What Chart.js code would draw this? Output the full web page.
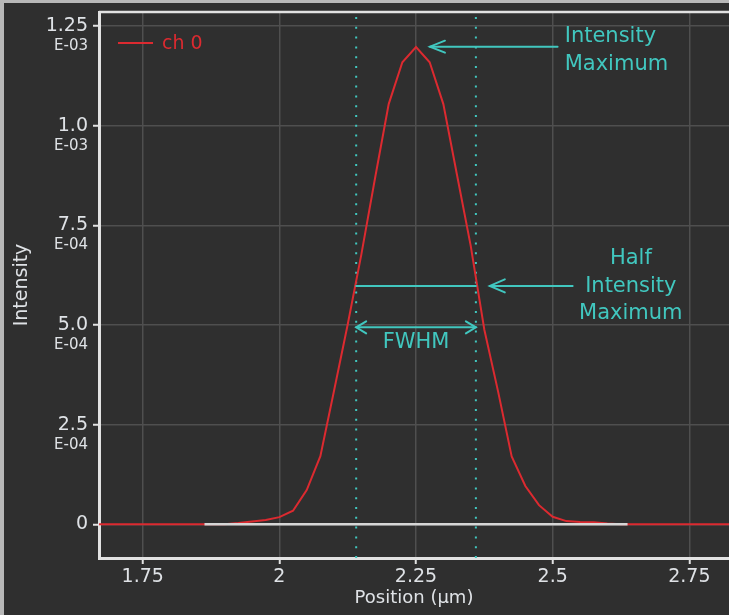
<!DOCTYPE html>
<html><head><meta charset="utf-8">
<script src="https://cdn.jsdelivr.net/npm/chart.js@4/dist/chart.umd.min.js"></script>
<style>html,body{margin:0;padding:0;background:#2f2f2f;}canvas{display:block}</style>
</head><body>
<canvas id="c" width="729" height="615"></canvas>
<script>
// ---- data ----
const positions = [1.65, 1.9, 1.925, 1.95, 1.975, 2.0, 2.025, 2.05, 2.075, 2.1, 2.125, 2.15, 2.175, 2.2, 2.225, 2.25, 2.275, 2.3, 2.325, 2.35, 2.375, 2.4, 2.425, 2.45, 2.475, 2.5, 2.525, 2.55, 2.575, 2.6, 2.625, 2.85];
const intensities = [0, 0, 0.000003, 0.000007, 0.000011, 0.000018, 0.000034, 0.000086, 0.000171, 0.000335, 0.000501, 0.000677, 0.000868, 0.001054, 0.001159, 0.001197, 0.001159, 0.001054, 0.000876, 0.000699, 0.000488, 0.000334, 0.000170, 0.000096, 0.000048, 0.000019, 0.000008, 0.000006, 0.000005, 0.000002, 0, 0];
const baselineX = [1.863, 2.637];
const baselineY = [0, 0];
const fwhmBounds = [2.1405, 2.3595];
const halfMaxValue = 0.000598;
const fwhmArrowY = 0.000494;
const peakArrowX = [2.2755, 2.509];
const peakArrowY = 0.001198;
const halfArrowX = [2.385, 2.5365];
const peakLabelLines = ['Intensity', 'Maximum'];
const peakLabelAt = [2.522, 0.0011887];
const halfLabelLines = ['Half', 'Intensity', 'Maximum'];
const halfLabelAt = [2.643, 0.0005966];
const fwhmLabel = 'FWHM';
const fwhmLabelAt = [2.25, 0.0004556];
const xTicks = [1.75, 2, 2.25, 2.5, 2.75];
const xTickLabels = ['1.75', '2', '2.25', '2.5', '2.75'];
const yTicks = [0, 0.00025, 0.0005, 0.00075, 0.001, 0.00125];
const yTickLabels = ['0', '2.5', '5.0', '7.5', '1.0', '1.25'];
const yTickExponents = ['', 'E-04', 'E-04', 'E-04', 'E-03', 'E-03'];
const xRange = [1.670, 2.8226];
const yRange = [-0.0000845, 0.001285];
const seriesName = 'ch 0';

// ---- styles ----
const RED = '#dc2a30', CYAN = '#41c7bf', TXT = '#dfe2e6', BG = '#2f2f2f', GRID = '#4f4f4f', AXIS = '#e2e2e2';
const FONT = 'DejaVu Sans';

const zip = (xs, ys) => xs.map((v, i) => ({x: v, y: ys[i]}));

const overlay = {
  id: 'overlay',
  beforeDraw(chart) {
    const {ctx, width, height} = chart;
    ctx.save();
    ctx.fillStyle = BG; ctx.fillRect(0, 0, width, height);
    ctx.fillStyle = '#b8b8b8'; ctx.fillRect(0, 0, width, 3); ctx.fillRect(0, 0, 4, height);
    ctx.restore();
  },
  afterDatasetsDraw(chart) {
    const {ctx, chartArea: a, scales: {x, y}} = chart;
    const X = v => x.getPixelForValue(v), Y = v => y.getPixelForValue(v);
    const seg = (x1, y1, x2, y2) => { ctx.beginPath(); ctx.moveTo(x1, y1); ctx.lineTo(x2, y2); ctx.stroke(); };
    const head = (tx, ty, dir, len, w) => { ctx.beginPath(); ctx.moveTo(tx + dir * len, ty - w); ctx.lineTo(tx, ty); ctx.lineTo(tx + dir * len, ty + w); ctx.stroke(); };
    ctx.save();
    // top border of plot
    ctx.strokeStyle = AXIS; ctx.lineWidth = 2.5;
    seg(a.left, a.top, a.right, a.top);
    ctx.strokeStyle = CYAN; ctx.lineWidth = 2; ctx.lineCap = 'round';
    // half maximum line
    seg(X(fwhmBounds[0]), Y(halfMaxValue), X(fwhmBounds[1]), Y(halfMaxValue));
    // FWHM double arrow
    const fy = Y(fwhmArrowY);
    seg(X(fwhmBounds[0]), fy, X(fwhmBounds[1]), fy);
    head(X(fwhmBounds[0]), fy, 1, 10, 6);
    head(X(fwhmBounds[1]), fy, -1, 10, 6);
    // peak arrow
    const py = Y(peakArrowY);
    seg(X(peakArrowX[0]), py, X(peakArrowX[1]), py);
    head(X(peakArrowX[0]), py, 1, 15, 6);
    // half max arrow
    const hy = Y(halfMaxValue);
    seg(X(halfArrowX[0]), hy, X(halfArrowX[1]), hy);
    head(X(halfArrowX[0]), hy, 1, 15, 6.5);
    // texts
    ctx.fillStyle = CYAN; ctx.font = '21px "' + FONT + '"'; ctx.textBaseline = 'middle';
    const lh = 27.5;
    ctx.textAlign = 'left';
    peakLabelLines.forEach((t, i) => ctx.fillText(t, X(peakLabelAt[0]), Y(peakLabelAt[1]) + (i - (peakLabelLines.length - 1) / 2) * lh));
    ctx.textAlign = 'center';
    halfLabelLines.forEach((t, i) => ctx.fillText(t, X(halfLabelAt[0]), Y(halfLabelAt[1]) + (i - (halfLabelLines.length - 1) / 2) * lh));
    ctx.fillText(fwhmLabel, X(fwhmLabelAt[0]), Y(fwhmLabelAt[1]));
    // legend
    const ly = a.top + 31;
    ctx.strokeStyle = RED; ctx.lineWidth = 2; ctx.lineCap = 'butt';
    seg(a.left + 19, ly, a.left + 54, ly);
    ctx.fillStyle = RED; ctx.font = '19px "' + FONT + '"'; ctx.textAlign = 'left';
    ctx.fillText(chart.data.datasets[1].label, a.left + 63, ly + 1);
    ctx.restore();
  },
  afterDraw(chart) {
    const {ctx, chartArea: a, scales: {y}} = chart;
    ctx.save();
    ctx.fillStyle = TXT; ctx.font = '15px "' + FONT + '"'; ctx.textAlign = 'right'; ctx.textBaseline = 'middle';
    yTicks.forEach((v, i) => { if (yTickExponents[i]) ctx.fillText(yTickExponents[i], a.left - 11, y.getPixelForValue(v) + 20); });
    ctx.restore();
  }
};

new Chart(document.getElementById('c'), {
  type: 'line',
  data: {
    datasets: [
      {label: 'baseline', data: zip(baselineX, baselineY), borderColor: '#d6d6d6', borderWidth: 2.5, pointRadius: 0},
      {label: seriesName, data: zip(positions, intensities), borderColor: RED, borderWidth: 2, pointRadius: 0, tension: 0},
      {label: 'left', data: zip([fwhmBounds[0], fwhmBounds[0]], yRange), borderColor: CYAN, borderWidth: 2, borderDash: [2, 7.8], pointRadius: 0},
      {label: 'right', data: zip([fwhmBounds[1], fwhmBounds[1]], yRange), borderColor: CYAN, borderWidth: 2, borderDash: [2, 7.8], pointRadius: 0}
    ]
  },
  options: {
    responsive: false, animation: false, devicePixelRatio: 1,
    layout: {padding: {top: 12, right: 0, left: 0, bottom: 0}},
    plugins: {legend: {display: false}, tooltip: {enabled: false}},
    scales: {
      x: {
        type: 'linear', min: xRange[0], max: xRange[1],
        afterBuildTicks: s => { s.ticks = xTicks.map(v => ({value: v})); },
        afterFit: s => { s.height = 57; s.paddingLeft = 0; s.paddingRight = 0; },
        ticks: {color: TXT, font: {family: FONT, size: 19}, padding: 2, maxRotation: 0,
          callback: v => xTickLabels[xTicks.indexOf(v)]},
        grid: {color: GRID, lineWidth: 1.5, tickColor: AXIS, tickLength: 6, tickWidth: 2},
        border: {color: AXIS, width: 3},
        title: {display: true, text: 'Position (µm)', color: TXT, font: {family: FONT, size: 18, lineHeight: 1.2}, padding: {top: 0, bottom: 6}}
      },
      y: {
        type: 'linear', min: yRange[0], max: yRange[1],
        afterBuildTicks: s => { s.ticks = yTicks.map(v => ({value: v})); },
        afterFit: s => { s.width = 99; s.paddingTop = 0; s.paddingBottom = 0; },
        ticks: {color: TXT, font: {family: FONT, size: 19}, padding: 5,
          callback: v => yTickLabels[yTicks.indexOf(v)]},
        grid: {color: GRID, lineWidth: 1.5, tickColor: AXIS, tickLength: 6, tickWidth: 2},
        border: {color: AXIS, width: 3},
        title: {display: true, text: 'Intensity', color: TXT, font: {family: FONT, size: 19, lineHeight: 1.2}, padding: {top: 10.5, bottom: 0}}
      }
    }
  },
  plugins: [overlay]
});
</script>
</body></html>
